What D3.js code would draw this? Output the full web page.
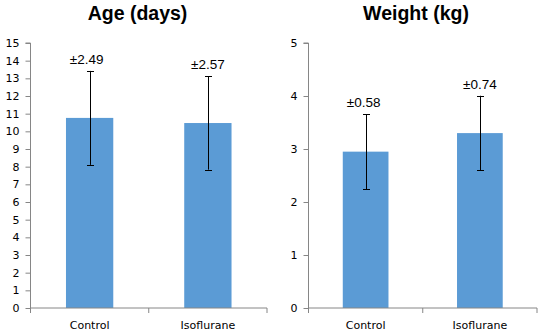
<!DOCTYPE html>
<html>
<head>
<meta charset="utf-8">
<script src="https://cdn.jsdelivr.net/npm/d3@7"></script>
<style>
  html, body { margin: 0; padding: 0; background: #fff; }
  svg { display: block; }
</style>
</head>
<body>
<svg id="chart" width="542" height="335"></svg>
<script>
const categories = ["Control", "Isoflurane"];

const ageTitle = "Age (days)";
const ageMeans = [10.76, 10.47];
const ageErr = [2.66, 2.64];
const ageLabels = ["±2.49", "±2.57"];
const ageTicks = [0, 1, 2, 3, 4, 5, 6, 7, 8, 9, 10, 11, 12, 13, 14, 15];

const weightTitle = "Weight (kg)";
const weightMeans = [2.95, 3.30];
const weightErr = [0.705, 0.705];
const weightLabels = ["±0.58", "±0.74"];
const weightTicks = [0, 1, 2, 3, 4, 5];

const svg = d3.select("#chart");
const axisColor = "#868686";
const barColor = "#5b9bd5";

function drawPanel(cfg) {
  const g = svg.append("g");
  const y = d3.scaleLinear().domain(cfg.domain).range([308, 43]);
  const x = d3.scaleBand().domain(categories).range([cfg.x0, cfg.x1])
    .paddingInner(0.6).paddingOuter(0.3);
  const step = x.step();

  // title
  g.append("text")
    .attr("x", cfg.titleX).attr("y", 20)
    .attr("text-anchor", "middle")
    .style("font-family", "'Liberation Sans', Arial, sans-serif")
    .style("font-weight", "bold")
    .style("font-size", "19.5px")
    .attr("fill", "#000")
    .text(cfg.title);

  // y axis
  const yAxis = d3.axisLeft(y).tickValues(cfg.ticks).tickSize(5).tickPadding(6)
    .tickFormat(d3.format("d"));
  const ya = g.append("g").attr("transform", `translate(${cfg.x0},0)`).call(yAxis);
  ya.select(".domain").attr("stroke", axisColor).attr("d", `M-5,${y.range()[1]}H0V${y.range()[0]}`);
  ya.selectAll(".tick line").attr("stroke", axisColor);
  ya.selectAll(".tick text")
    .style("font-family", "'DejaVu Sans', Verdana, sans-serif")
    .style("font-size", "11px")
    .attr("fill", "#000");

  // bars
  g.selectAll("rect.bar").data(cfg.means).enter().append("rect")
    .attr("class", "bar")
    .attr("x", (d, i) => x(categories[i]))
    .attr("width", x.bandwidth())
    .attr("y", d => y(d))
    .attr("height", d => y(0) - y(d))
    .attr("fill", barColor);

  // x axis line
  g.append("line")
    .attr("x1", cfg.x0).attr("x2", cfg.x1)
    .attr("y1", y(0)).attr("y2", y(0))
    .attr("stroke", axisColor);
  // category boundary ticks
  const bounds = [0, 1, 2].map(i => cfg.x0 + i * step);
  g.selectAll("line.ctick").data(bounds).enter().append("line")
    .attr("class", "ctick")
    .attr("x1", d => d).attr("x2", d => d)
    .attr("y1", y(0)).attr("y2", y(0) + 5)
    .attr("stroke", axisColor);
  // category labels
  g.selectAll("text.cat").data(categories).enter().append("text")
    .attr("class", "cat")
    .attr("x", d => x(d) + x.bandwidth() / 2)
    .attr("y", 329)
    .attr("text-anchor", "middle")
    .style("font-family", "'DejaVu Sans', Verdana, sans-serif")
    .style("font-size", "11px")
    .attr("fill", "#000")
    .text(d => d);

  // error bars
  const cx = i => x(categories[i]) + x.bandwidth() / 2;
  cfg.means.forEach((m, i) => {
    const top = y(m + cfg.err[i]), bot = y(m - cfg.err[i]);
    const c = Math.round(cx(i)) + 0.5;
    g.append("line").attr("x1", c).attr("x2", c).attr("y1", top).attr("y2", bot)
      .attr("stroke", "#000").attr("stroke-width", 1);
    [top, bot].forEach(v => {
      g.append("line").attr("x1", c - 3.5).attr("x2", c + 3.5)
        .attr("y1", Math.round(v) + 0.5).attr("y2", Math.round(v) + 0.5)
        .attr("stroke", "#000").attr("stroke-width", 1);
    });
    g.append("text")
      .attr("x", cx(i) + cfg.labelDx[i]).attr("y", top - 7)
      .attr("text-anchor", "middle")
      .style("font-family", "'Liberation Sans', Arial, sans-serif")
      .style("font-size", "13.5px")
      .attr("fill", "#000")
      .text(cfg.labels[i]);
  });
}

drawPanel({
  title: ageTitle, titleX: 137.5, domain: [0, 15], ticks: ageTicks,
  means: ageMeans, err: ageErr, labels: ageLabels,
  x0: 30.5, x1: 267, labelDx: [-3, 0]
});
drawPanel({
  title: weightTitle, titleX: 416, domain: [0, 5], ticks: weightTicks,
  means: weightMeans, err: weightErr, labels: weightLabels,
  x0: 308.5, x1: 537, labelDx: [-2, 0]
});
</script>
</body>
</html>
